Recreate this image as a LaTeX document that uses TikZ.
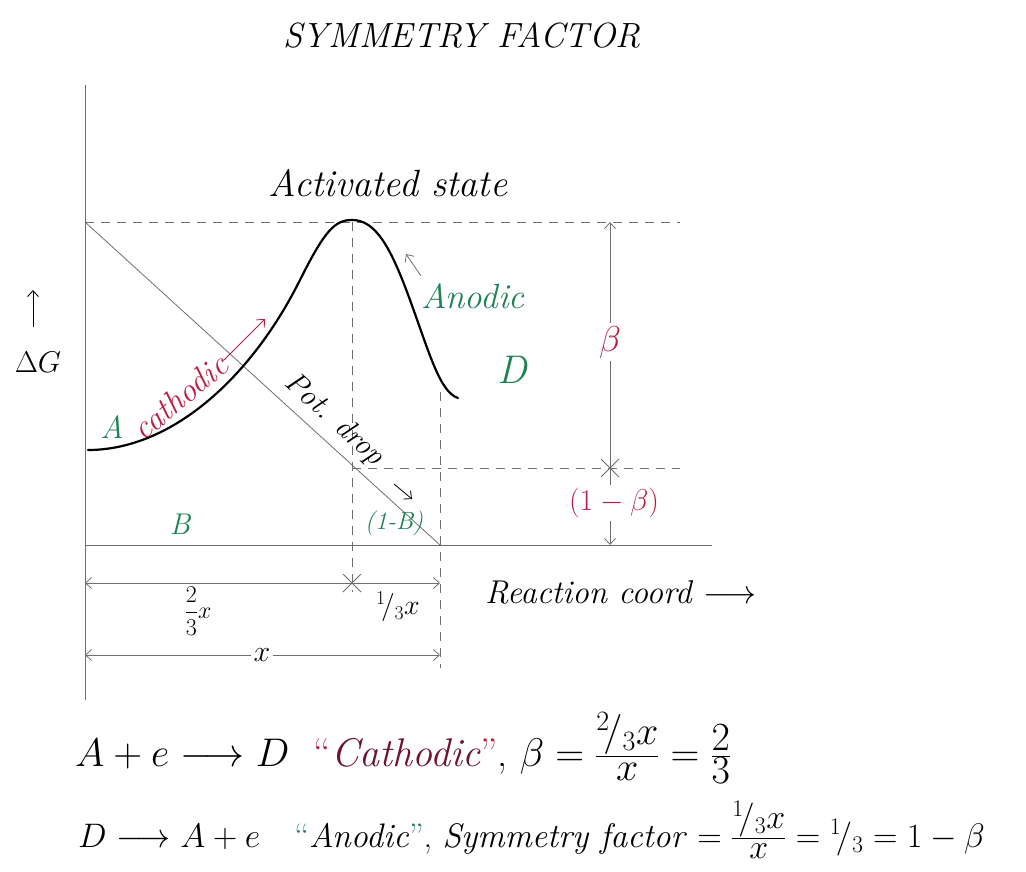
\RequirePackage{fix-cm}
\documentclass[tikz,border=0pt]{standalone}
\usepackage{amsmath}
\usetikzlibrary{arrows.meta,calc}
\definecolor{pgreen}{RGB}{30,130,85}
\definecolor{pred}{RGB}{185,30,70}
\definecolor{dred}{RGB}{110,20,45}
\definecolor{lgray}{RGB}{110,110,110}
\newcommand{\fs}[1]{\fontsize{#1}{#1}\selectfont}
\newcommand{\mfrac}[2]{\frac{\textstyle #1}{\textstyle #2}}
\begin{document}
\begin{tikzpicture}[x=1pt,y=-1pt,
  guide/.style={draw=lgray, line width=0.8pt},
  dashline/.style={draw=lgray, line width=0.8pt, dash pattern=on 9pt off 7pt},
  barb/.style={-{Straight Barb[length=6pt,width=11pt]}},
  dim/.style={draw=lgray, line width=0.8pt, {Straight Barb[length=6pt,width=11pt]}-{Straight Barb[length=6pt,width=11pt]}},
  lab/.style={font=\fs{32}\itshape, inner sep=1pt},
  glab/.style={lab, text=pgreen},
  rlab/.style={lab, text=pred},
  bglab/.style={inner sep=3pt, fill=white},
  eqn/.style={anchor=west, inner sep=0pt},
  curve/.style={line width=2.2pt, line cap=round}
]
\useasboundingbox (0,0) rectangle (1026,872);

% title
\node[font=\fs{35}\itshape] (title) at (462,35) {SYMMETRY FACTOR};

% axes
\coordinate (axT) at (85,85);
\coordinate (axB) at (85,700);
\draw[guide] (axT) -- (axB);
\coordinate (base0) at (85,545);
\coordinate (base1) at (712,545);
\draw[guide] (base0) -- (base1);

% dashed guides
\coordinate (top0) at (85,222);
\coordinate (top1) at (680,222);
\draw[dashline] (top0) -- (top1);
\coordinate (peakTop) at (352,222);
\coordinate (peakBot) at (352,592);
\draw[dashline] (peakTop) -- (peakBot);
\coordinate (dTop) at (440,392);
\coordinate (dBot) at (440,668);
\draw[dashline] (dTop) -- (dBot);
\coordinate (mid0) at (352,468);
\coordinate (mid1) at (680,468);
\draw[dashline] (mid0) -- (mid1);

% potential drop diagonal
\coordinate (diagEnd) at (440,545);
\draw[guide] (top0) -- (diagEnd);

% energy curve
\draw[curve] (88,450) .. controls (170,450) and (250,380) .. (300,280)
  .. controls (325,230) and (335,220) .. (352,220)
  .. controls (375,220) and (390,245) .. (410,300)
  .. controls (430,355) and (440,392) .. (458,398);

% vertical dimension beta / (1-beta)
\coordinate (vb0) at (610,222);
\coordinate (vb1) at (610,545);
\draw[dim] (vb0) -- (vb1);
\coordinate (xm1) at (610,468);
\draw[guide] ($(xm1)+(-9,-9)$) -- ($(xm1)+(9,9)$) ($(xm1)+(-9,9)$) -- ($(xm1)+(9,-9)$);
\node[rlab, bglab, font=\fs{36}] (beta) at (610,342) {$\beta$};
\node[rlab, bglab, font=\fs{30}] (omb) at (614,503) {$(1-\beta)$};

% horizontal dimensions
\coordinate (h10) at (85,583);
\coordinate (h11) at (440,583);
\draw[dim] (h10) -- (h11);
\coordinate (xm2) at (352,583);
\draw[guide] ($(xm2)+(-9,-9)$) -- ($(xm2)+(9,9)$) ($(xm2)+(-9,9)$) -- ($(xm2)+(9,-9)$);
\coordinate (h20) at (85,655);
\coordinate (h21) at (440,655);
\draw[dim] (h20) -- (h21);
\node[lab, bglab, font=\fs{30}] (xlab) at (262,655) {$x$};
\node[lab, font=\fs{24}] (twothird) at (198,611) {$\dfrac{2}{3}x$};
\node[lab, font=\fs{28}] (onethird) at (398,607) {${}^{1}\!/_{3}x$};
\node[lab, anchor=west, font=\fs{33}\itshape] (rc) at (484,592) {Reaction coord $\longrightarrow$};

% Delta G axis label
\coordinate (dgTail) at (33,327);
\coordinate (dgHead) at (33,290);
\draw[barb, line width=0.9pt] (dgTail) -- (dgHead);
\node[lab, font=\fs{30}] (dG) at (38,362) {$\Delta G$};

% labels on diagram
\node[lab, font=\fs{38}\itshape] (act) at (388,183) {Activated state};
\node[glab, font=\fs{35}\itshape] (anodic) at (473,296) {Anodic};
\coordinate (anTail) at (421,276);
\coordinate (anHead) at (406,254);
\draw[barb, lgray, line width=0.8pt] (anTail) -- (anHead);
\node[glab, font=\fs{40}\itshape] (D) at (512,370) {D};
\node[glab, font=\fs{32}\itshape] (A) at (112,427) {A};
\node[glab, font=\fs{30}\itshape] (B) at (180,524) {B};
\node[glab, font=\fs{25}\itshape] (omB) at (394,523) {(1-B)};
\node[rlab, rotate=40, font=\fs{33}\itshape] (cath) at (180,397) {cathodic};
\coordinate (cathTip) at (265,319);
\draw[barb, pred, line width=0.9pt] (cath.east) -- (cathTip);
\node[lab, rotate=-42, font=\fs{30}\itshape] (pot) at (334,420) {Pot. drop};
\coordinate (potTail) at (394,484);
\coordinate (potTip) at (412,499);
\draw[barb, line width=0.8pt] (potTail) -- (potTip);

% equations
\node[eqn, font=\fs{40}] (eq1) at (75,748) {$A + e \longrightarrow D$\ \ \textcolor{pred}{``}\textcolor{dred}{\textit{Cathodic}}\textcolor{pred}{''}, $\beta = \mfrac{{}^{2}\!/_{3}x}{x} = \mfrac{2}{3}$};
\node[eqn, font=\fs{34}] (eq2) at (78,830) {$D \longrightarrow A + e$\quad \textcolor{pgreen}{``}\textit{Anodic}\textcolor{pgreen}{''}, \textit{Symmetry factor} $= \mfrac{{}^{1}\!/_{3}x}{x} = {}^{1}\!/_{3} = 1-\beta$};
\end{tikzpicture}
\end{document}
